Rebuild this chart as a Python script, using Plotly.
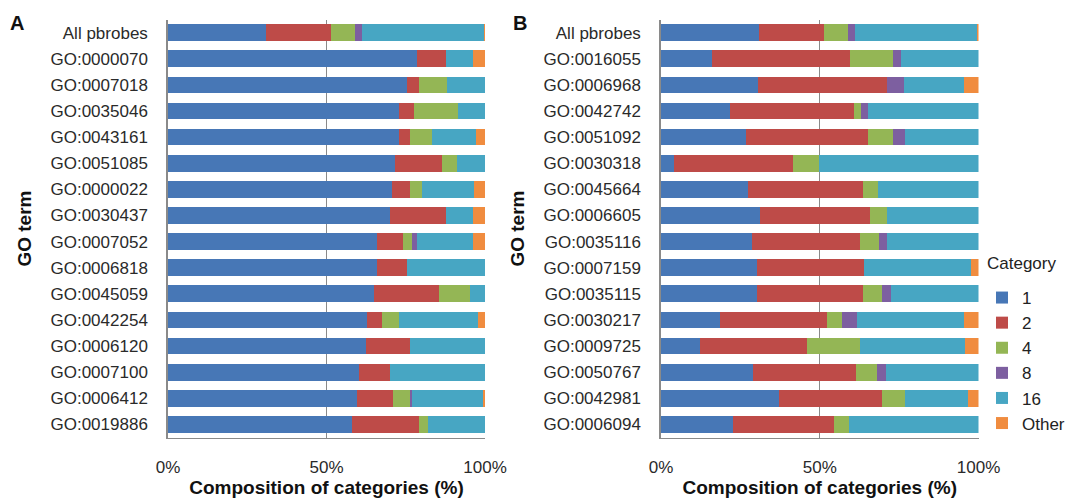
import plotly.graph_objects as go

categories = ["1", "2", "4", "8", "16", "Other"]
colors = ["#4777B6", "#BE4B48", "#94B655", "#7D5FA0", "#47A6C3", "#F08C3F"]

labels_A = ["All pbrobes", "GO:0000070", "GO:0007018", "GO:0035046", "GO:0043161", "GO:0051085",
            "GO:0000022", "GO:0030437", "GO:0007052", "GO:0006818", "GO:0045059", "GO:0042254",
            "GO:0006120", "GO:0007100", "GO:0006412", "GO:0019886"]
cat1_A = [31.0, 78.4, 75.4, 73.0, 73.0, 71.6, 70.7, 69.9, 65.9, 65.9, 65.1, 62.9, 62.5, 60.4, 59.5, 58.1]
cat2_A = [20.3, 9.2, 3.9, 4.6, 3.3, 14.7, 5.6, 17.7, 8.2, 9.6, 20.3, 4.7, 13.7, 9.7, 11.5, 21.2]
cat4_A = [7.7, 0, 8.7, 13.8, 7.0, 4.8, 3.9, 0, 3.0, 0, 10.0, 5.3, 0, 0, 5.3, 2.7]
cat8_A = [2.2, 0, 0, 0, 0, 0, 0, 0, 1.3, 0, 0, 0, 0, 0, 0.8, 0]
cat16_A = [38.5, 8.6, 12.0, 8.6, 13.8, 8.9, 16.4, 8.6, 17.8, 24.5, 4.6, 25.0, 23.8, 29.9, 22.2, 18.0]
other_A = [0.3, 3.8, 0, 0, 2.9, 0, 3.4, 3.8, 3.8, 0, 0, 2.1, 0, 0, 0.7, 0]

labels_B = ["All pbrobes", "GO:0016055", "GO:0006968", "GO:0042742", "GO:0051092", "GO:0030318",
            "GO:0045664", "GO:0006605", "GO:0035116", "GO:0007159", "GO:0035115", "GO:0030217",
            "GO:0009725", "GO:0050767", "GO:0042981", "GO:0006094"]
cat1_B = [31.0, 16.1, 30.7, 21.6, 26.9, 4.0, 27.3, 31.2, 28.6, 30.3, 30.3, 18.6, 12.2, 29.1, 37.3, 22.6]
cat2_B = [20.3, 43.5, 40.4, 39.3, 38.4, 37.6, 36.2, 34.5, 34.0, 33.6, 33.2, 33.7, 33.7, 32.3, 32.3, 31.9]
cat4_B = [7.7, 13.4, 0, 2.2, 7.7, 8.1, 4.8, 5.5, 6.1, 0, 6.1, 4.8, 16.7, 6.5, 7.3, 4.7]
cat8_B = [2.2, 2.6, 5.4, 2.2, 3.9, 0, 0, 0, 2.5, 0, 2.9, 4.7, 0, 2.9, 0, 0]
cat16_B = [38.5, 24.4, 18.9, 34.7, 23.1, 50.3, 31.7, 28.8, 28.8, 33.8, 27.5, 33.6, 33.3, 29.2, 19.8, 40.8]
other_B = [0.3, 0, 4.6, 0, 0, 0, 0, 0, 0, 2.3, 0, 4.6, 4.1, 0, 3.3, 0]

x_ticks = [0, 50, 100]
x_ticktext = ["0%", "50%", "100%"]

series_A = [cat1_A, cat2_A, cat4_A, cat8_A, cat16_A, other_A]
series_B = [cat1_B, cat2_B, cat4_B, cat8_B, cat16_B, other_B]

FONT = "Arial, Liberation Sans, sans-serif"
W, H = 1074, 503

fig = go.Figure()
for i, cat in enumerate(categories):
    fig.add_trace(go.Bar(
        y=labels_A, x=series_A[i], orientation="h", name=cat,
        marker=dict(color=colors[i], line=dict(width=0)),
        xaxis="x", yaxis="y", legendgroup=cat, showlegend=True,
        hovertemplate="%{y}: %{x}%<extra>" + cat + "</extra>"))
for i, cat in enumerate(categories):
    fig.add_trace(go.Bar(
        y=labels_B, x=series_B[i], orientation="h", name=cat,
        marker=dict(color=colors[i], line=dict(width=0)),
        xaxis="x2", yaxis="y2", legendgroup=cat, showlegend=False,
        hovertemplate="%{y}: %{x}%<extra>" + cat + "</extra>"))

top_px, bot_px = 19.6, 437.5
ydom = [1 - bot_px / H, 1 - top_px / H]

def xaxis_cfg(x0, x1, anchor):
    return dict(domain=[x0 / W, x1 / W], range=[0, 100], anchor=anchor,
                tickvals=x_ticks, ticktext=x_ticktext, showgrid=True,
                gridcolor="#8a8a8a", gridwidth=1, showline=True, linecolor="#8a8a8a",
                linewidth=1, mirror=False, zeroline=False, ticks="",
                ticklabelstandoff=14, automargin=False,
                tickfont=dict(family=FONT, size=17, color="#2a2a2a"),
                title=dict(text="<b>Composition of categories (%)</b>", standoff=3,
                           font=dict(family=FONT, size=19, color="#111")),
                fixedrange=True)

def yaxis_cfg(anchor):
    return dict(domain=ydom, anchor=anchor, type="category", autorange="reversed",
                showline=True, linecolor="#8a8a8a", linewidth=1.5, showgrid=False,
                ticks="outside", ticklen=4, tickcolor="rgba(0,0,0,0)",
                ticklabelstandoff=11, automargin=False,
                tickfont=dict(family=FONT, size=17, color="#2a2a2a"),
                title=dict(text="<b>GO term</b>", standoff=14,
                           font=dict(family=FONT, size=19, color="#111")),
                fixedrange=True)

fig.update_layout(
    width=W, height=H,
    margin=dict(l=0, r=0, t=0, b=0, autoexpand=False),
    paper_bgcolor="white", plot_bgcolor="white",
    barmode="stack", bargap=0.36,
    font=dict(family=FONT, color="#222"),
    xaxis=xaxis_cfg(168, 485, "y"),
    yaxis=yaxis_cfg("x"),
    xaxis2=xaxis_cfg(661, 978.5, "y2"),
    yaxis2=yaxis_cfg("x2"),
    legend=dict(x=982 / W, y=1 - 280 / H, xanchor="left", yanchor="top",
                traceorder="normal", bgcolor="rgba(0,0,0,0)",
                font=dict(family=FONT, size=17, color="#222"),
                itemwidth=30, tracegroupgap=0),
    annotations=[
        dict(text="<b>A</b>", x=8 / W, y=1 - 23 / H, xref="paper", yref="paper",
             xanchor="left", yanchor="middle", showarrow=False,
             font=dict(family=FONT, size=20, color="#111")),
        dict(text="<b>B</b>", x=511 / W, y=1 - 23 / H, xref="paper", yref="paper",
             xanchor="left", yanchor="middle", showarrow=False,
             font=dict(family=FONT, size=20, color="#111")),
        dict(text="Category", x=985 / W, y=1 - 263 / H, xref="paper", yref="paper",
             xanchor="left", yanchor="middle", showarrow=False,
             font=dict(family=FONT, size=17, color="#222")),
    ],
)

fig.write_html("out.html", config={"displayModeBar": False},
               post_script="document.body.style.margin='0';document.body.style.overflow='hidden';")
